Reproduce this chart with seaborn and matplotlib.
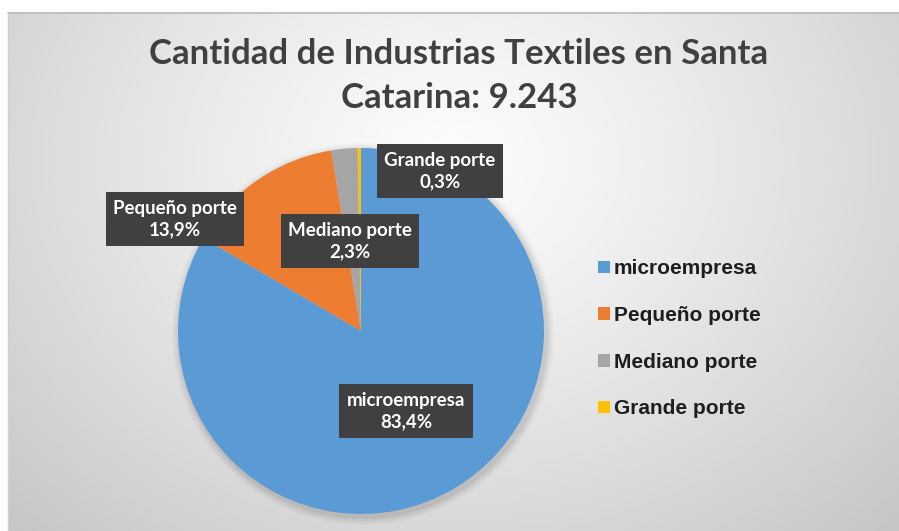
import numpy as np
import matplotlib
matplotlib.use("Agg")
import matplotlib.pyplot as plt
import seaborn as sns
from matplotlib.patches import Patch, Circle

# Data
categories = ["microempresa", "Pequeño porte", "Mediano porte", "Grande porte"]
shares = [83.4, 13.9, 2.3, 0.3]
share_labels = ["83,4%", "13,9%", "2,3%", "0,3%"]
total_companies = "9.243"
palette = sns.color_palette(["#5B9BD5", "#ED7D31", "#A5A5A5", "#FFC000"])

sns.set_theme(style="white")
plt.rcParams["font.family"] = ["Lato", "DejaVu Sans"]

W, H = 899, 531
fig = plt.figure(figsize=(W / 100, H / 100), dpi=100)
fig.patch.set_facecolor("white")
ax = fig.add_axes([0, 0, 1, 1])


def py(y):
    """Convert a top-based pixel row to axes data y."""
    return H - y


# Soft radial grey background of the chart panel
x0, x1, ytop = 8, W, 13
gx = np.linspace(x0, x1, 400)
gy = np.linspace(ytop, H, 240)
XX, YY = np.meshgrid(gx, gy)
d = np.sqrt(((XX - 450) / 520) ** 2 + ((YY - 160) / 430) ** 2)
val = np.clip(0.99 - 0.17 * d ** 1.2, 0.78, 1.0)
img = np.dstack([val, val, val])
ax.imshow(img, extent=(x0, x1, py(H), py(ytop)), origin="upper",
          aspect="auto", zorder=0, interpolation="bilinear")
ax.plot([x0, x1], [py(ytop), py(ytop)], color="#b8b8b8", lw=1.2, zorder=1)
ax.plot([x0, x0], [py(ytop), py(H)], color="#d0d0d0", lw=1.0, zorder=1)

# Pie
cx, cy, r = 361, 331, 183
for k, a in enumerate([0.05, 0.04, 0.03, 0.02]):
    ax.add_patch(Circle((cx + 2, py(cy) - 3), r + 2 + 2 * k, color="black",
                        alpha=a, lw=0, zorder=1.5))
wedges, _ = ax.pie(shares, colors=palette, startangle=90, counterclock=False,
                   center=(cx, py(cy)), radius=r,
                   wedgeprops=dict(linewidth=0, zorder=2))

# Data label boxes
label_pos = [(406, 411), (175, 219), (350, 241), (440, 171)]
for cat, lab, (lx, ly) in zip(categories, share_labels, label_pos):
    ax.text(lx, py(ly), f"{cat}\n{lab}", ha="center", va="center",
            color="white", fontsize=13.5, fontweight="bold", linespacing=1.3,
            zorder=5,
            bbox=dict(boxstyle="square,pad=0.4", fc="#404040", ec="none"))

# Title
title_kw = dict(ha="center", va="baseline", fontsize=25, fontweight="bold",
                color="#404040")
fig.text(459 / W, 1 - 64 / H, "Cantidad de Industrias Textiles en Santa",
         **title_kw)
fig.text(459 / W, 1 - 108 / H, f"Catarina: {total_companies}", **title_kw)

# Legend
handles = [Patch(facecolor=c, edgecolor="none", label=n)
           for c, n in zip(palette, categories)]
leg = ax.legend(handles=handles, loc="upper left",
                bbox_to_anchor=(590 / W, 1 - 251 / H), frameon=False,
                prop=dict(family="Liberation Sans", weight="bold", size=15),
                labelcolor="#1e1e1e", handlelength=0.55, handleheight=0.55,
                handletextpad=0.2, labelspacing=1.33, borderaxespad=0)

ax.set_xlim(0, W)
ax.set_ylim(0, H)
ax.set_aspect("auto")
ax.axis("off")

fig.savefig("out.png", dpi=100)
